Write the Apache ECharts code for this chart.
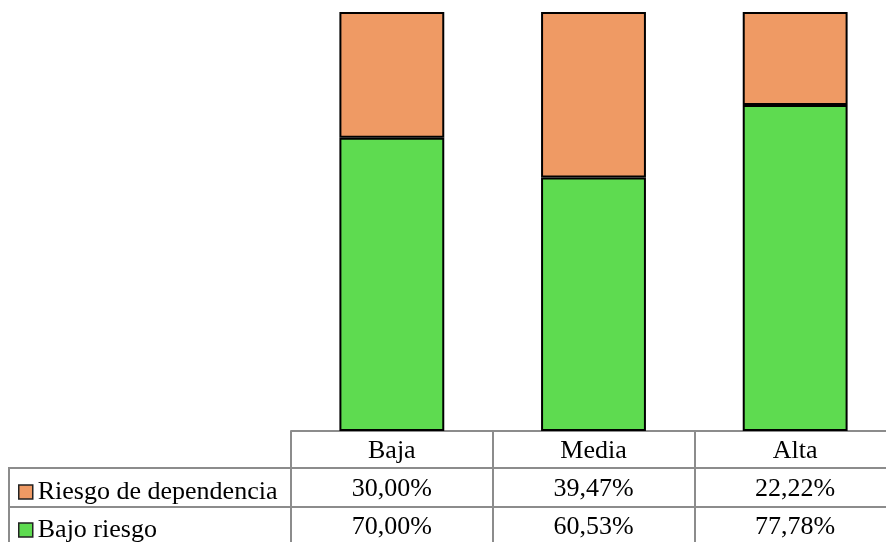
<!DOCTYPE html>
<html>
<head>
<meta charset="utf-8">
<script src="https://cdn.jsdelivr.net/npm/echarts@6/dist/echarts.min.js"></script>
<style>
html,body{margin:0;padding:0;background:#fff;}
#c{width:886px;height:542px;}
</style>
</head>
<body>
<div id="c"></div>
<script>
var categories = ['Baja', 'Media', 'Alta'];
var seriesNames = ['Riesgo de dependencia', 'Bajo riesgo'];
var riesgoDependencia = [30.00, 39.47, 22.22];
var bajoRiesgo = [70.00, 60.53, 77.78];

function fmt(v) { return v.toFixed(2).replace('.', ',') + '%'; }

var FONT = 'Liberation Serif, Times New Roman, serif';
var GRID_COLOR = '#8c8c8c';

var chart = echarts.init(document.getElementById('c'));

var baseAxis = {
  type: 'category',
  data: categories,
  position: 'bottom',
  boundaryGap: true,
  axisLine: { show: true, lineStyle: { color: GRID_COLOR, width: 2 } },
  axisTick: { show: false },
  splitLine: { show: false },
  axisLabel: {
    interval: 0, margin: 1, color: '#000', fontFamily: FONT, fontSize: 26,
    lineHeight: 38, verticalAlign: 'top', hideOverlap: false
  }
};

var option = {
  animation: false,
  backgroundColor: '#fff',
  grid: { left: 291, top: 12, width: 605, height: 419, containLabel: false, outerBoundsMode: 'none' },
  yAxis: { type: 'value', min: 0, max: 100, show: false },
  xAxis: [
    echarts.util.merge(echarts.util.clone(baseAxis), {
      axisTick: { show: true, alignWithLabel: false, interval: 0, length: 115, lineStyle: { color: GRID_COLOR, width: 2 } }
    }, true),
    echarts.util.merge(echarts.util.clone(baseAxis), {
      offset: 37,
      axisLabel: { margin: 2, formatter: function (v, i) { return fmt(riesgoDependencia[i]); } }
    }, true),
    echarts.util.merge(echarts.util.clone(baseAxis), {
      offset: 76,
      axisLabel: { margin: 1, formatter: function (v, i) { return fmt(bajoRiesgo[i]); } }
    }, true)
  ],
  legend: {
    orient: 'vertical', left: 18, top: 479, width: 280, height: 120, padding: 0,
    itemWidth: 14, itemHeight: 14, itemGap: 12,
    data: seriesNames,
    icon: 'rect',
    itemStyle: { borderColor: '#222', borderWidth: 1.5 },
    textStyle: { fontFamily: FONT, fontSize: 26, color: '#000', lineHeight: 26 }
  },
  series: [
    {
      name: seriesNames[1], type: 'bar', stack: 'total', xAxisIndex: 0, barWidth: '52%',
      data: bajoRiesgo,
      itemStyle: { color: '#5edb50', borderColor: '#000', borderWidth: 2 }
    },
    {
      name: seriesNames[0], type: 'bar', stack: 'total', xAxisIndex: 0, barWidth: '52%',
      data: riesgoDependencia,
      itemStyle: { color: '#ef9a64', borderColor: '#000', borderWidth: 2 }
    }
  ],
  graphic: [
    { type: 'line', shape: { x1: 9, y1: 468, x2: 291, y2: 468 }, style: { stroke: GRID_COLOR, lineWidth: 2 } },
    { type: 'line', shape: { x1: 9, y1: 507, x2: 291, y2: 507 }, style: { stroke: GRID_COLOR, lineWidth: 2 } },
    { type: 'line', shape: { x1: 9, y1: 467, x2: 9, y2: 545 }, style: { stroke: GRID_COLOR, lineWidth: 2 } }
  ]
};
chart.setOption(option);
</script>
</body>
</html>
